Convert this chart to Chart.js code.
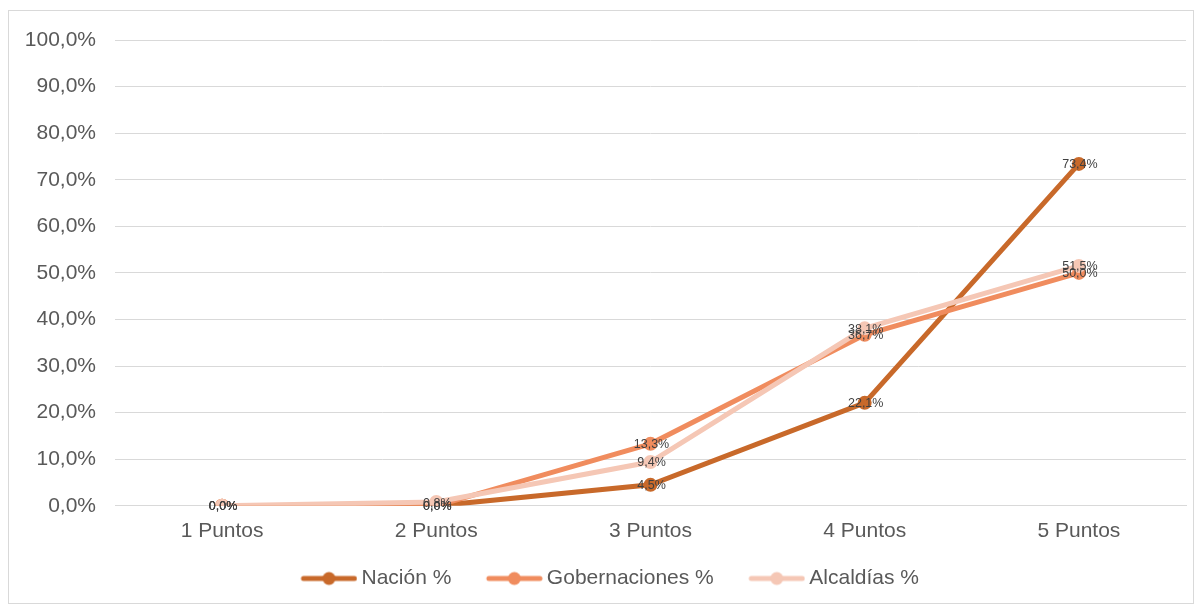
<!DOCTYPE html>
<html>
<head>
<meta charset="utf-8">
<script src="https://cdn.jsdelivr.net/npm/chart.js@4/dist/chart.umd.min.js"></script>
<style>
  html, body { margin: 0; padding: 0; background: #fff; }
  #frame { position: absolute; left: 8px; top: 10px; width: 1186px; height: 594px; border: 1px solid #D9D9D9; box-sizing: border-box; }
  #frame canvas { display: block; }
</style>
</head>
<body>
<div id="frame"><canvas id="c"></canvas></div>
<script>
const categories = ['1 Puntos', '2 Puntos', '3 Puntos', '4 Puntos', '5 Puntos'];
const nacion = [0.0, 0.0, 4.5, 22.1, 73.4];
const gobernaciones = [0.0, 0.0, 13.3, 36.7, 50.0];
const alcaldias = [0.0, 0.8, 9.4, 38.1, 51.5];
const yTicks = [0, 10, 20, 30, 40, 50, 60, 70, 80, 90, 100];

const colors = { nacion: '#C8692A', gob: '#F08C5E', alc: '#F5C7B5' };
const FONT = '"Liberation Sans", Arial, sans-serif';
const FONT_SIZE = 21;

// legend marker: a short thick line with a dot, placed at the right end of the image
const ICON_BOX = 74;      // space reserved by the legend for the marker
const ICON_W = ICON_BOX + 13;
const MARK_W = 57;

function fmt(v) { return v.toFixed(1).replace('.', ',') + '%'; }

function legendIcon(color) {
  const cv = document.createElement('canvas');
  cv.width = ICON_W; cv.height = 16;
  const g = cv.getContext('2d');
  const x0 = ICON_W - MARK_W;
  g.strokeStyle = color; g.lineWidth = 5; g.lineCap = 'round';
  g.beginPath(); g.moveTo(x0 + 3, 8); g.lineTo(ICON_W - 3, 8); g.stroke();
  g.fillStyle = color;
  g.beginPath(); g.arc(x0 + MARK_W / 2, 8, 6.5, 0, Math.PI * 2); g.fill();
  return cv;
}

const valueLabels = {
  id: 'valueLabels',
  afterDatasetsDraw(chart) {
    const ctx = chart.ctx;
    ctx.save();
    ctx.font = '12.5px ' + FONT;
    ctx.fillStyle = '#404040';
    ctx.textAlign = 'center';
    ctx.textBaseline = 'middle';
    chart.data.datasets.forEach((ds, i) => {
      const meta = chart.getDatasetMeta(i);
      meta.data.forEach((pt, j) => {
        ctx.fillText(fmt(ds.data[j]), pt.x + 1, pt.y + 1);
      });
    });
    ctx.restore();
  }
};

function series(label, data, color, order) {
  return {
    label, data, order,
    borderColor: color, backgroundColor: color,
    borderWidth: 5, pointRadius: 7, pointHoverRadius: 7,
    pointStyle: 'circle',
    pointBackgroundColor: color, pointBorderColor: color, pointBorderWidth: 0,
    tension: 0
  };
}

const chart = new Chart(document.getElementById('c'), {
  type: 'line',
  data: {
    labels: categories,
    datasets: [
      series('Nación %', nacion, colors.nacion, 3),
      series('Gobernaciones %', gobernaciones, colors.gob, 2),
      series('Alcaldías %', alcaldias, colors.alc, 1)
    ]
  },
  options: {
    responsive: true,
    maintainAspectRatio: false,
    animation: false,
    layout: { padding: { left: 0, right: 6, top: 29, bottom: 4 } },
    plugins: {
      tooltip: { enabled: false },
      legend: {
        position: 'bottom',
        labels: {
          usePointStyle: true,
          pointStyleWidth: ICON_BOX,
          boxHeight: 16,
          color: '#595959',
          font: { family: FONT, size: FONT_SIZE },
          padding: 11,
          generateLabels(chart) {
            return chart.data.datasets.map((ds, i) => ({
              text: ds.label,
              fillStyle: ds.borderColor,
              strokeStyle: ds.borderColor,
              lineWidth: 0,
              pointStyle: legendIcon(ds.borderColor),
              datasetIndex: i,
              fontColor: '#595959'
            }));
          }
        }
      }
    },
    scales: {
      x: {
        offset: true,
        grid: { display: false, drawTicks: false },
        border: { color: '#D9D9D9', width: 1 },
        ticks: { color: '#595959', font: { family: FONT, size: FONT_SIZE }, padding: 13 }
      },
      y: {
        min: 0, max: 100,
        afterBuildTicks(axis) { axis.ticks = yTicks.map(v => ({ value: v })); },
        afterFit(axis) { axis.width = 106; axis.paddingTop = 0; },
        grid: { color: '#D9D9D9', lineWidth: 1, drawTicks: false },
        border: { display: false },
        ticks: {
          color: '#595959', font: { family: FONT, size: FONT_SIZE, lineHeight: 1 }, padding: 19,
          callback: v => fmt(v)
        }
      }
    }
  },
  plugins: [valueLabels]
});
</script>
</body>
</html>
